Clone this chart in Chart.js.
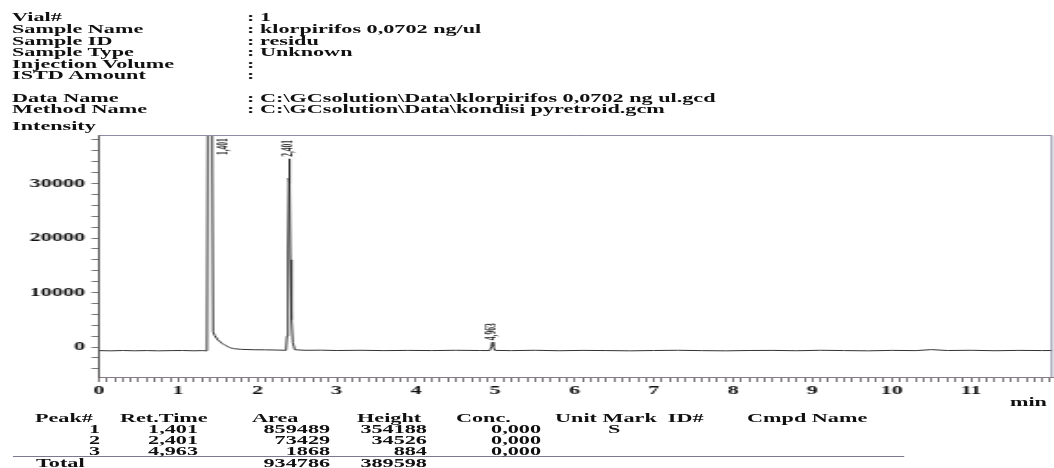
<!DOCTYPE html>
<html>
<head>
<meta charset="utf-8">
<script src="https://cdn.jsdelivr.net/npm/chart.js@4/dist/chart.umd.min.js"></script>
<style>
  html, body { margin: 0; padding: 0; background: #fff; overflow: hidden; }
  /* the GC report is printed wide: the whole sheet is stretched horizontally */
  #sheet {
    position: absolute; left: 0; top: 0;
    width: 570px; height: 468px;
    transform: scaleX(1.849123); transform-origin: 0 0;
  }
  #plot { position: absolute; left: 0; top: 0; width: 570px; height: 468px; }
  .t {
    position: absolute; white-space: pre; color: #111;
    font: bold 12px "Liberation Serif", "Times New Roman", serif; line-height: 12px;
  }
  .r { transform: translateX(-100%); }
  #rule { position: absolute; left: 6.5px; top: 456px; width: 482px; height: 1px; background: #7a7a8c; }
</style>
</head>
<body>
<div id="sheet">
  <div id="plot"><canvas id="chrom"></canvas></div>
  <div id="rule"></div>
</div>
<script>
// ---- sample information ----
const infoLabels = ['Vial#', 'Sample Name', 'Sample ID', 'Sample Type', 'Injection Volume', 'ISTD Amount'];
const infoValues = [': 1', ': klorpirifos 0,0702 ng/ul', ': residu', ': Unknown', ':', ':'];
const fileLabels = ['Data Name', 'Method Name'];
const fileValues = [': C:\\GCsolution\\Data\\klorpirifos 0,0702 ng ul.gcd', ': C:\\GCsolution\\Data\\kondisi pyretroid.gcm'];

// ---- chromatogram trace (retention time in min, intensity) ----
const retTime = [
  0.00, 0.15, 0.30, 0.45, 0.60, 0.75, 0.90, 1.05, 1.20, 1.30, 1.362,
  1.372, 1.385, 1.401, 1.415, 1.428, 1.440,
  1.46, 1.50, 1.55, 1.60, 1.65, 1.70, 1.80, 1.95, 2.10, 2.25, 2.36,
  2.372, 2.385, 2.395, 2.401, 2.407, 2.415, 2.428, 2.445, 2.470,
  2.6, 2.8, 3.0, 3.3, 3.6, 3.9, 4.2, 4.5, 4.8, 4.93,
  4.950, 4.963, 4.975, 4.995,
  5.2, 5.5, 5.8, 6.1, 6.4, 6.7, 7.0, 7.3, 7.6, 7.9, 8.2, 8.5, 8.8,
  9.1, 9.4, 9.7, 10.0, 10.3, 10.5, 10.7, 11.0, 11.3, 11.6, 11.9, 12.03
];
const intensity = [
  -660, -700, -640, -690, -650, -700, -660, -640, -690, -660, -700,
  40000, 200000, 354188, 200000, 40000, 2800,
  2100, 1300, 700, 250, -100, -300, -430, -500, -520, -560, -600,
  2000, 18000, 31000, 34526, 30000, 16000, 5000, 800, -500,
  -600, -580, -640, -600, -660, -620, -650, -600, -640, -650,
  100, 884, 100, -620,
  -660, -600, -680, -620, -650, -700, -640, -600, -660, -700, -640, -620, -680,
  -600, -650, -700, -620, -660, -480, -640, -600, -680, -620, -650, -640
];

// ---- peak table ----
const peakNo = ['1', '2', '3'];
const peakRetTime = [1.401, 2.401, 4.963];
const peakRetLabel = ['1,401', '2,401', '4,963'];
const peakArea = [859489, 73429, 1868];
const peakHeight = [354188, 34526, 884];
const peakConc = ['0,000', '0,000', '0,000'];
const peakMark = ['S', '', ''];
const totalArea = 934786;
const totalHeight = 389598;

// ---- axes ----
const timeMin = 0, timeMax = 12.03;
const intensityMin = -5500, intensityMax = 38900;
const xTickLabels = ['0', '1', '2', '3', '4', '5', '6', '7', '8', '9', '10', '11'];
const yTickValues = [-4000, -2000, 0, 2000, 4000, 6000, 8000, 10000, 12000, 14000, 16000, 18000,
  20000, 22000, 24000, 26000, 28000, 30000, 32000, 34000, 36000, 38000];
const yTickLabels = { 0: '0', 10000: '10000', 20000: '20000', 30000: '30000' };

// ---- text blocks ----
const sheet = document.getElementById('sheet');
function put(text, left, top, right) {
  const d = document.createElement('div');
  d.className = 't' + (right ? ' r' : '');
  d.style.left = left + 'px';
  d.style.top = top + 'px';
  d.textContent = text;
  sheet.appendChild(d);
}
const infoTops = [11, 23, 35, 46, 57.5, 69];
infoLabels.forEach((s, i) => { put(s, 6.5, infoTops[i]); put(infoValues[i], 133.6, infoTops[i]); });
const fileTops = [92, 102.5];
fileLabels.forEach((s, i) => { put(s, 6.5, fileTops[i]); put(fileValues[i], 133.6, fileTops[i]); });
put('Intensity', 6.5, 120);
put('min', 546.2, 396);

put('Peak#', 18.9, 412);
put('Ret.Time', 64.9, 412);
put('Area', 136.3, 412);
put('Height', 193.1, 412);
put('Conc.', 246.6, 412);
put('Unit Mark  ID#', 300.2, 412);
put('Cmpd Name', 404, 412);
const rowTops = [423, 434, 445];
peakNo.forEach((n, i) => {
  const y = rowTops[i];
  put(n, 54.1, y, true);
  put(peakRetLabel[i], 107.1, y, true);
  put(String(peakArea[i]), 178.5, y, true);
  put(String(peakHeight[i]), 230.9, y, true);
  put(peakConc[i], 292.6, y, true);
  if (peakMark[i]) put(peakMark[i], 328.8, y);
});
put('Total', 19.5, 457);
put(String(totalArea), 178.5, 457, true);
put(String(totalHeight), 230.9, 457, true);

// ---- plot frame and peak labels ----
const framePlugin = {
  id: 'frame',
  afterDraw(chart) {
    const { ctx, chartArea: a } = chart;
    ctx.save();
    ctx.strokeStyle = '#8c8ca4';
    ctx.lineWidth = 1;
    ctx.beginPath();
    ctx.moveTo(a.left, a.top + 0.5);
    ctx.lineTo(a.right - 0.5, a.top + 0.5);
    ctx.lineTo(a.right - 0.5, a.bottom);
    ctx.stroke();
    ctx.restore();
  }
};
const peakLabelPlugin = {
  id: 'peakLabels',
  afterDatasetsDraw(chart) {
    const { ctx, chartArea: a, scales: { x, y } } = chart;
    ctx.save();
    ctx.fillStyle = '#222';
    ctx.font = 'bold 7.5px "Liberation Serif", serif';
    ctx.textBaseline = 'middle';
    ctx.textAlign = 'left';
    peakRetTime.forEach((t, i) => {
      let px = x.getPixelForValue(t);
      let py = y.getPixelForValue(peakHeight[i]) - 2;
      if (py < a.top + 20) { px += 7.5; py = a.top + 20; }
      ctx.save();
      ctx.translate(px, py);
      ctx.rotate(-Math.PI / 2);
      ctx.fillText(peakRetLabel[i], 0, 0);
      ctx.restore();
    });
    ctx.restore();
  }
};

const tickFont = { family: '"Liberation Serif", "Times New Roman", serif', weight: 'bold', size: 12 };

new Chart(document.getElementById('chrom'), {
  type: 'line',
  data: {
    datasets: [{
      label: 'Intensity',
      data: retTime.map((t, i) => ({ x: t, y: intensity[i] })),
      borderColor: '#333',
      borderWidth: 1,
      pointRadius: 0,
      tension: 0,
      fill: false
    }]
  },
  options: {
    responsive: true,
    maintainAspectRatio: false,
    animation: false,
    layout: { padding: { top: 135, left: 0, right: 0.5, bottom: 0 } },
    plugins: { legend: { display: false }, tooltip: { enabled: false } },
    scales: {
      x: {
        type: 'linear',
        min: timeMin,
        max: timeMax,
        afterBuildTicks(scale) {
          const ticks = [];
          for (let i = 0; i <= 120; i++) ticks.push({ value: i / 10 });
          scale.ticks = ticks;
        },
        afterFit(scale) { scale.height = 91; },
        ticks: {
          autoSkip: false, maxRotation: 0, minRotation: 0, padding: 2,
          color: '#111', font: tickFont,
          callback(value) {
            const k = Math.round(value * 10);
            return (k % 10 === 0 && xTickLabels[k / 10] !== undefined) ? xTickLabels[k / 10] : '';
          }
        },
        grid: { drawOnChartArea: false, tickLength: 5, tickColor: '#777', tickWidth: 1 },
        border: { display: true, color: '#8a7a86', width: 1 }
      },
      y: {
        type: 'linear',
        min: intensityMin,
        max: intensityMax,
        afterBuildTicks(scale) { scale.ticks = yTickValues.map(v => ({ value: v })); },
        afterFit(scale) { scale.width = 53.5; },
        ticks: {
          autoSkip: false, padding: 3.5,
          color: '#111', font: tickFont,
          callback(value) { return yTickLabels[value] !== undefined ? yTickLabels[value] : ''; }
        },
        grid: { drawOnChartArea: false, tickLength: 4, tickColor: '#777', tickWidth: 1 },
        border: { display: true, color: '#555', width: 1 }
      }
    }
  },
  plugins: [framePlugin, peakLabelPlugin]
});
</script>
</body>
</html>
